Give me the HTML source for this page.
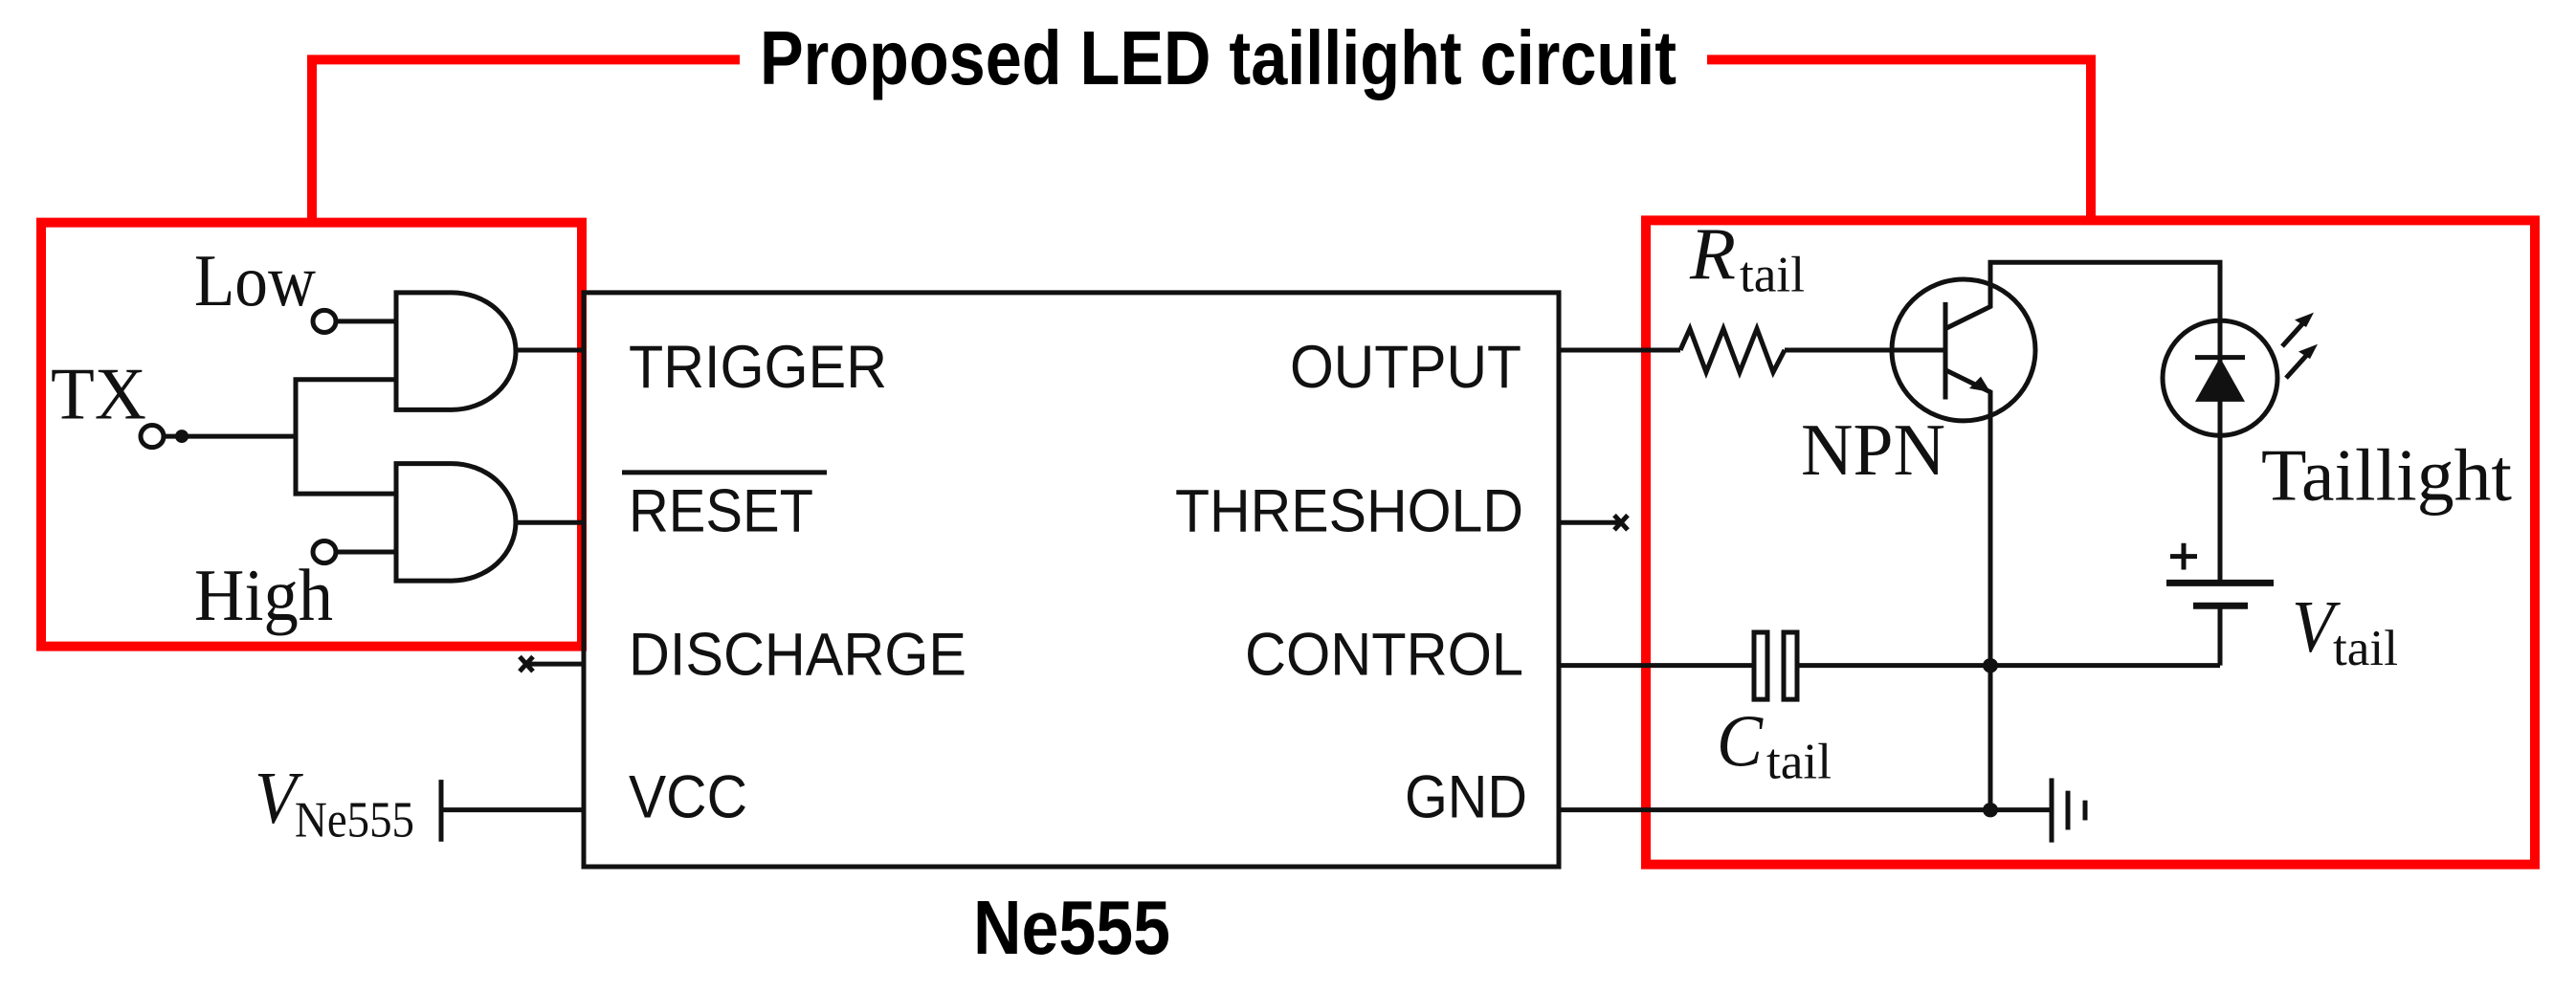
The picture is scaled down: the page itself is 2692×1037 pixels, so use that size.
<!DOCTYPE html>
<html><head><meta charset="utf-8"><style>
html,body{margin:0;padding:0;background:#fff;overflow:hidden;}
svg{display:block;}
.s{font-family:"Liberation Sans",sans-serif;font-size:82px;fill:#111;}
.r{font-family:"Liberation Serif",serif;fill:#111;}
svg *{vector-effect:non-scaling-stroke;}
</style></head><body>
<svg width="2692" height="1037" viewBox="0 0 2692 1037" xmlns="http://www.w3.org/2000/svg">
<g transform="scale(1,0.7704)">
<g fill="none" stroke="#ff0000" stroke-width="10">
<polyline points="326,302 326,81 773,81"/>
<polyline points="1784,81 2185,81 2185,299"/>
<rect x="43" y="302" width="565" height="575"/>
<rect x="1720" y="299" width="929" height="874"/>
</g>
<text x="794" y="114" font-family="Liberation Sans, sans-serif" font-weight="bold" font-size="104" textLength="958" lengthAdjust="spacingAndGlyphs" fill="#000">Proposed LED taillight circuit</text>

<g fill="none" stroke="#111" stroke-width="5">
<rect x="610" y="397" width="1019" height="779"/>
<path d="M414,397 H472 A67,79.5 0 0 1 472,556 H414 Z"/>
<path d="M414,629 H472 A67,79.5 0 0 1 472,788 H414 Z"/>
<line x1="539" y1="475" x2="608" y2="475"/>
<line x1="539" y1="709" x2="608" y2="709"/>
<line x1="352" y1="436" x2="414" y2="436"/>
<line x1="352" y1="749" x2="414" y2="749"/>
<polyline points="414,515 309,515 309,670 414,670"/>
<line x1="172" y1="592" x2="309" y2="592"/>
<ellipse cx="339" cy="436" rx="12" ry="15"/>
<ellipse cx="339" cy="749" rx="12" ry="15"/>
<ellipse cx="159" cy="592" rx="12" ry="15"/>
<line x1="553" y1="901" x2="610" y2="901"/>
<line x1="463" y1="1099" x2="610" y2="1099"/>
<line x1="461" y1="1058" x2="461" y2="1142"/>
<line x1="1629" y1="475" x2="1756" y2="475"/>
<polyline points="1756,475 1766,446 1783,505 1801,446 1818,505 1836,446 1853,505 1865,475"/>
<line x1="1865" y1="475" x2="2033" y2="475"/>
<line x1="1629" y1="709" x2="1692" y2="709"/>
<line x1="1629" y1="903" x2="1833" y2="903"/>
<rect x="1833" y="858" width="14" height="91"/>
<rect x="1864" y="858" width="14" height="91"/>
<line x1="1878" y1="903" x2="2320" y2="903"/>
<line x1="1629" y1="1099" x2="2144" y2="1099"/>
<line x1="2144" y1="1056" x2="2144" y2="1143"/>
<line x1="2161" y1="1073" x2="2161" y2="1126"/>
<line x1="2179" y1="1086" x2="2179" y2="1113"/>
<ellipse cx="2052" cy="475" rx="75" ry="96"/>
<line x1="2033" y1="410" x2="2033" y2="542"/>
<polyline points="2033,446 2080,416 2080,356 2320,356 2320,790"/>
<polyline points="2033,502 2080,532 2080,1099"/>
<ellipse cx="2320" cy="513" rx="60" ry="78"/>
<line x1="2294" y1="485" x2="2346" y2="485"/>
<line x1="2385" y1="470" x2="2410" y2="434"/>
<line x1="2389" y1="513" x2="2414" y2="477"/>
<line x1="2264" y1="791" x2="2376" y2="791" stroke-width="7"/>
<line x1="2292" y1="822" x2="2349" y2="822" stroke-width="7"/>
<polyline points="2320,822 2320,903"/>
<line x1="2268" y1="755" x2="2296" y2="755"/>
<line x1="2282" y1="737" x2="2282" y2="773"/>
<path d="M543,891 l14,20 M557,891 l-14,20"/>
<path d="M1687,699 l14,20 M1701,699 l-14,20"/>
<line x1="650" y1="641" x2="864" y2="641"/>
</g>
<g fill="#111">
<ellipse cx="190" cy="592" rx="7" ry="9"/>
<ellipse cx="2080" cy="903" rx="8" ry="10"/>
<ellipse cx="2080" cy="1099" rx="8" ry="10"/>
<polygon points="2320,485 2294,545 2346,545"/>
<polygon points="2080,532 2058,527 2070,511"/>
<polygon points="2418,424 2398,434 2410,444"/>
<polygon points="2422,467 2402,477 2414,487"/>
</g>
<text class="s" x="657" y="526" textLength="270" lengthAdjust="spacingAndGlyphs">TRIGGER</text>
<text class="s" x="657" y="721" textLength="193" lengthAdjust="spacingAndGlyphs">RESET</text>
<text class="s" x="657" y="916" textLength="353" lengthAdjust="spacingAndGlyphs">DISCHARGE</text>
<text class="s" x="657" y="1109" textLength="124" lengthAdjust="spacingAndGlyphs">VCC</text>
<text class="s" x="1348" y="526" textLength="242" lengthAdjust="spacingAndGlyphs">OUTPUT</text>
<text class="s" x="1228" y="721" textLength="364" lengthAdjust="spacingAndGlyphs">THRESHOLD</text>
<text class="s" x="1301" y="916" textLength="291" lengthAdjust="spacingAndGlyphs">CONTROL</text>
<text class="s" x="1468" y="1109" textLength="128" lengthAdjust="spacingAndGlyphs">GND</text>
<text x="1017" y="1294" font-family="Liberation Sans, sans-serif" font-weight="bold" font-size="104" textLength="206" lengthAdjust="spacingAndGlyphs" fill="#000">Ne555</text>

<text class="r" x="203" y="414" font-size="100" textLength="127" lengthAdjust="spacingAndGlyphs">Low</text>
<text class="r" x="53" y="568" font-size="100" textLength="100" lengthAdjust="spacingAndGlyphs">TX</text>
<text class="r" x="203" y="841" font-size="100" textLength="145" lengthAdjust="spacingAndGlyphs">High</text>
<text class="r" x="266" y="1116" font-size="100" font-style="italic" textLength="44" lengthAdjust="spacingAndGlyphs">V</text>
<text class="r" x="308" y="1135" font-size="68" textLength="125" lengthAdjust="spacingAndGlyphs">Ne555</text>
<text class="r" x="1766" y="378" font-size="100" font-style="italic" textLength="48" lengthAdjust="spacingAndGlyphs">R</text>
<text class="r" x="1818" y="395" font-size="68" textLength="68" lengthAdjust="spacingAndGlyphs">tail</text>
<text class="r" x="1882" y="644" font-size="100" textLength="151" lengthAdjust="spacingAndGlyphs">NPN</text>
<text class="r" x="2363" y="678" font-size="100" textLength="262" lengthAdjust="spacingAndGlyphs">Taillight</text>
<text class="r" x="2395" y="884" font-size="100" font-style="italic" textLength="44" lengthAdjust="spacingAndGlyphs">V</text>
<text class="r" x="2438" y="902" font-size="68" textLength="68" lengthAdjust="spacingAndGlyphs">tail</text>
<text class="r" x="1794" y="1039" font-size="100" font-style="italic" textLength="48" lengthAdjust="spacingAndGlyphs">C</text>
<text class="r" x="1846" y="1056" font-size="68" textLength="68" lengthAdjust="spacingAndGlyphs">tail</text>
</g>
</svg>
</body></html>
